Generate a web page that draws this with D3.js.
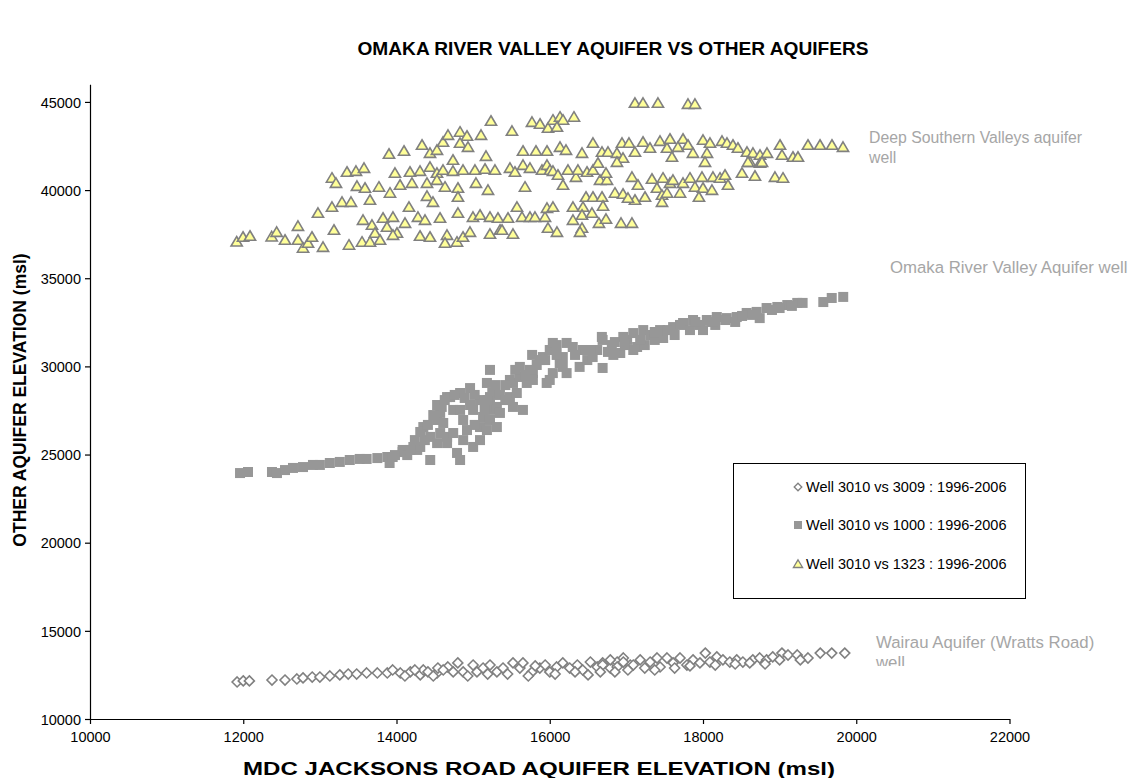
<!DOCTYPE html>
<html><head><meta charset="utf-8">
<script src="https://cdn.jsdelivr.net/npm/d3@7"></script>
<style>
html,body{margin:0;padding:0;background:#fff;}
svg{display:block;font-family:Arial,"Liberation Sans",sans-serif;}
</style></head>
<body>
<svg id="chart" width="1136" height="778"></svg>
<script>
const chartTitle = "OMAKA RIVER VALLEY AQUIFER VS OTHER AQUIFERS";
const xTitle = "MDC JACKSONS ROAD AQUIFER ELEVATION (msl)";
const yTitle = "OTHER AQUIFER ELEVATION (msl)";
const xTicks = [10000,12000,14000,16000,18000,20000,22000];
const yTicks = [10000,15000,20000,25000,30000,35000,40000,45000];
const seriesNames = ["Well 3010 vs 3009 : 1996-2006","Well 3010 vs 1000 : 1996-2006","Well 3010 vs 1323 : 1996-2006"];
const annoDeep = ["Deep Southern Valleys aquifer","well"];
const annoOmaka = ["Omaka River Valley Aquifer well"];
const annoWairau = ["Wairau Aquifer (Wratts Road)","well"];

// Well 3010 vs 3009 (diamonds)
const well3009 = [
[11920,12100],[12000,12160],[12080,12160],[12375,12210],[12545,12210],[12700,12270],[12780,12330],[12900,12380],[13000,12380],
[13130,12440],[13260,12500],[13370,12550],[13480,12550],[13610,12610],[13750,12610],[13880,12610],[13950,12780],[14050,12610],
[14180,12670],[14310,12500],[14350,12780],[14410,12670],[14530,12610],[14540,12890],[14670,12950],[14740,12670],[14800,13180],
[14870,12670],[15000,13060],[15050,12670],[15130,12890],[15220,13060],[15310,12670],[15390,12890],[15520,13180],[15610,12890],
[15650,13180],[15770,12670],[15870,12890],[15940,13060],[16000,12670],[16090,12950],[16170,13180],[16260,12890],[16360,13060],
[16430,12780],[16530,13230],[16620,12950],[16690,13180],[16790,12890],[16880,13230],[16960,13460],[17050,13060],
[16690,13060],[16790,13350],[16880,12950],[16960,13230],[17090,13060],[17180,13350],[17310,13230],[17400,13460],[17440,12950],
[17530,13460],[17610,13180],[17700,13460],[17790,13060],[17870,13350],[17960,13180],[18030,13740],[18090,13230],[18180,13520],
[18260,13350],[18350,13230],[18440,13350],[18520,13230],[18650,13350],[18740,13460],[18830,13350],[18910,13520],[19030,13740],
[19110,13630],[19230,13630],[19370,13460],[19530,13740],[19680,13740],[19850,13740],
[14110,12440],[14240,12780],[14480,12440],[14610,12780],[14930,12440],[15190,12550],[15450,12550],[15720,12440],[15810,13010],
[16070,12550],[16330,12670],[16500,12500],[16660,12670],[16850,12670],[17020,12780],[17240,12890],[17370,12780],[17630,12890],
[17830,13010],[18160,13060],[18420,13120],[18610,13180],[18810,13120],[19000,13350],[19270,13350]
];

// Well 3010 vs 1000 (squares)
const well1000 = [
[11958,23950],[12062,24010],[12375,24010],[12440,23950],[12545,24120],[12649,24240],[12780,24290],[12910,24410],[13000,24410],
[13130,24520],[13260,24580],[13390,24690],[13520,24750],[13610,24750],[13750,24800],[13880,24860],[13910,24520],[13950,24860],
[14080,25140],[14080,25260],[14140,24970],[14220,25430],[14270,25260],[14310,25430],[14350,26560],[14370,25820],[14440,24690],
[14440,26000],[14530,25650],[14530,26960],[14570,26220],[14570,27360],[14590,27700],[14610,26790],[14660,28260],[14660,26000],
[14660,25650],[14700,28260],[14740,27530],[14740,26220],[14790,25090],[14830,28490],[14830,24690],[14870,26960],[14870,25820],
[14960,28770],[15000,27530],[15000,25430],[15090,28090],[15090,26560],[15090,25820],[15130,27130],[15180,26390],[15180,29060],
[15220,29800],[15220,26960],[15220,28260],[15250,28490],[15260,27530],[15310,26560],[15310,27700],[15350,27360],[15480,28260],
[15480,29230],[15520,29060],[15520,27700],[15570,28490],[15610,29400],[15610,29970],[15650,27530],[15700,29060],[15740,29800],
[15770,30650],[15780,29620],[15780,29230],[15870,30360],[15910,30530],[15960,29060],[16000,30930],[16000,29230],[16040,31330],
[16040,29620],[16090,31210],[16130,30190],[16170,29970],[16170,30530],[16220,31330],[16220,29620],[16300,31100],[16390,29970],
[16430,30930],[16490,30360],[16560,30530],[16620,30930],[16680,31670],[16690,31500],[16690,29910],[16810,31210],[16920,30760],
[16960,31670],[17010,31500],[17090,31890],[17090,30930],[17140,31100],[17220,32060],[17310,31780],[17440,32060],[17480,31610],
[17610,32230],[17740,32460],[17870,32630],[18000,32060],[18050,32630],[18180,32800],[18310,32740],[18440,32800],[18570,33030],
[18700,33090],[18830,33310],[18970,33370],[19100,33480],[19230,33600],[19570,33650],[19680,33880],[19830,33940],
[16830,30650],[17240,31210],[17370,31500],[17630,31780],[17830,32060],[18160,32350],[18420,32520],[18740,32740],[17960,32350],
[13980,24970],[14180,25260],[14240,25820],[14310,26280],[14410,26680],[14480,27240],[14530,27810],[14630,28090],[14760,28380],
[14890,28210],[14960,27810],[15020,28380],[14830,27530],[14920,26390],[15020,26680],[15150,27530],[15190,28090],[15290,28940],
[15350,28380],[15420,28090],[15420,28940],[15550,29800],[15680,29510],[15830,30080],[15940,30360],[16090,30650],[16330,30650],
[16530,30930],[16760,30820],[16850,31380],[16980,31210],[17180,31500],[17370,31950],[17540,32060],[17700,32350],[17900,32520],
[18120,32520],[18290,32630],[18510,32860],[18640,32920],[18900,33200],[19000,33310],[19160,33430],[19300,33600]
];

// Well 3010 vs 1323 (triangles)
const well1323 = [
[11914,37073],[11997,37340],[12088,37400],[12371,37360],[12436,37620],[12545,37170],[12714,37960],[12714,37170],[12780,36720],
[12845,37000],[12897,37340],[13041,36770],[13184,37740],[13380,36890],[12975,38700],[13158,39040],[13289,39320],[13406,39320],
[13654,39440],[13158,40690],[13210,40400],[13354,41030],[13471,41080],[13576,41250],[13484,40230],[13589,40120],[13771,40180],
[13915,39840],[13902,42050],[14098,42220],[14333,42560],[14437,42100],[14528,42270],[14607,42730],[14672,43120],[14829,43300],
[14920,43070],[14829,42670],[14933,42440],[15103,43120],[15233,43920],[15168,41930],[14737,41710],[13980,40970],[14176,41030],
[14307,41080],[14437,41310],[14528,40970],[14607,41140],[14737,41080],[14868,41140],[15024,41140],[15155,41200],[15285,41140],
[14046,40290],[14202,40400],[14398,40400],[14528,40570],[14633,40180],[14802,40120],[15037,40400],[15194,40000],[14398,39660],
[14476,39320],[14802,39610],[14163,39040],[13563,38300],[13680,38020],[13719,37570],[13824,38420],[13876,37910],[13954,38470],
[14006,37570],[14111,38130],[14280,38470],[14372,38300],[13550,37060],[13654,37060],[13785,37170],[13954,37450],[14307,37400],
[14437,37340],[14568,38420],[14659,37450],[14633,37000],[14789,37060],[14868,37340],[14959,37620],[14998,38470],[15090,38590],
[15220,38470],[15324,38420],[15220,37510],[15351,37740],[14802,38700],
[17112,44940],[17217,44940],[17412,44940],[17804,44880],[17895,44880],[15768,43860],[15873,43750],[15977,43520],[16042,43980],
[16134,44150],[16173,43980],[16316,44150],[15507,43350],[16094,43580],[15651,42220],[15820,42220],[15964,42220],[16134,42440],
[16212,42270],[16421,42100],[16564,42670],[16682,42160],[16760,42160],[16877,42100],[16943,42670],[17034,42670],[16956,41820],
[16877,41590],[17112,42160],[17217,42730],[17308,42390],[17439,42780],[17530,42390],[17595,41880],[17569,42900],[17739,42900],
[17673,42440],[17804,42560],[17869,42100],[18000,42840],[18091,42670],[18052,42100],[18026,41590],[18248,42780],[18313,42670],
[18391,42560],[18456,42390],[18574,42160],[18652,42100],[18744,41990],[18835,42100],[18613,41590],[18744,41540],[15481,41250],
[15546,41030],[15651,41420],[15742,41250],[15899,41140],[15964,41420],[16003,41140],[16042,41080],[16107,40860],[16173,40290],
[16238,41140],[16342,40740],[16368,41140],[16486,41030],[16564,41140],[16629,41540],[16656,40570],[16747,40570],[16734,40970],
[15677,40180],[16851,39840],[16956,39780],[17073,40740],[17151,40290],[17112,39440],[17021,39550],[17243,39610],[17334,40630],
[17399,40120],[17478,40690],[17569,40400],[17608,40570],[17465,39720],[17530,39840],[17465,39320],[17700,39840],[17739,40400],
[17830,40690],[17895,40180],[17987,40740],[18000,40120],[17947,39610],[18117,40000],[18130,40740],[18222,40690],[18287,40860],
[18326,40290],[18509,40970],[18678,40800],[18939,40740],[15572,39040],[15455,38420],[15638,38470],[15742,38470],[15807,38470],
[15938,38470],[15964,38980],[16042,39040],[15377,37740],[15520,37510],[15977,37850],[16094,37620],[16303,39040],[16434,39040],
[16473,39610],[16564,39610],[16682,39610],[16695,39100],[16421,38590],[16551,38700],[16303,38300],[16421,37850],[16395,37620],
[16642,38130],[16734,38360],[16930,38130],[17073,38130],
[19005,42560],[19031,41990],[19174,41880],[19239,41880],[19370,42560],[19527,42560],[19683,42560],[19827,42440],[19044,40690],
[18770,41590],[18587,41590]
];

const svg = d3.select("#chart");
const plot = {left:90, right:1009.5, top:84.3, bottom:719};
const x = d3.scaleLinear().domain([10000,22000]).range([plot.left, plot.right]);
const y = d3.scaleLinear().domain([10000,46000]).range([plot.bottom, plot.top]);

// Axes
const xAxis = d3.axisBottom(x).tickValues(xTicks).tickSize(5).tickSizeOuter(0).tickFormat(d3.format("d"));
const yAxis = d3.axisLeft(y).tickValues(yTicks).tickSize(5).tickSizeOuter(0).tickFormat(d3.format("d"));

const gx = svg.append("g").attr("transform",`translate(0,${plot.bottom})`).call(xAxis);
const gy = svg.append("g").attr("transform",`translate(${plot.left},0)`).call(yAxis);
[gx,gy].forEach(g=>{
  g.select(".domain").attr("stroke","#000").attr("stroke-width",1.2);
  g.selectAll(".tick line").attr("stroke","#000").attr("stroke-width",1.2);
  g.selectAll(".tick text").attr("fill","#000").style("font-size","14.5px").style("font-family","Arial, 'Liberation Sans', sans-serif");
});
gx.selectAll(".tick text").attr("dy","0").attr("y",23);
gy.selectAll(".tick text").attr("x",-9).attr("dy","0.36em");

// Titles
svg.append("text").attr("x",613).attr("y",55).attr("text-anchor","middle")
  .attr("textLength",511).attr("lengthAdjust","spacingAndGlyphs")
  .style("font-size","18px").style("font-weight","bold").text(chartTitle);
svg.append("text").attr("x",539).attr("y",775).attr("text-anchor","middle")
  .attr("textLength",592).attr("lengthAdjust","spacingAndGlyphs")
  .style("font-size","19px").style("font-weight","bold").text(xTitle);
svg.append("text").attr("transform","translate(26,400) rotate(-90)").attr("text-anchor","middle")
  .style("font-size","17.5px").style("font-weight","bold").text(yTitle);

// Marker shapes
const diamondPath = "M0,-5L5,0L0,5L-5,0Z";
const trianglePath = "M0,-5.2L5.6,4.3L-5.6,4.3Z";

const gPts = svg.append("g");
gPts.selectAll("rect.sq").data(well1000).join("rect").attr("class","sq")
  .attr("x",d=>x(d[0])-5).attr("y",d=>y(d[1])-5).attr("width",10).attr("height",10)
  .attr("fill","#979797");
gPts.selectAll("path.dm").data(well3009).join("path").attr("class","dm")
  .attr("d",diamondPath).attr("transform",d=>`translate(${x(d[0])},${y(d[1])})`)
  .attr("fill","#fff").attr("stroke","#808080").attr("stroke-width",1.6);
gPts.selectAll("path.tr").data(well1323).join("path").attr("class","tr")
  .attr("d",trianglePath).attr("transform",d=>`translate(${x(d[0])},${y(d[1])})`)
  .attr("fill","#FFFF99").attr("stroke","#808080").attr("stroke-width",1.6);

// Annotations
const annoColor = "#a6a6a6";
function anno(lines, ax, ay, fs, clipBottom){
  const g = svg.append("g");
  lines.forEach((t,i)=>{
    g.append("text").attr("x",ax).attr("y",ay+i*20).attr("fill",annoColor)
      .style("font-size",fs+"px").text(t);
  });
  if(clipBottom){
    const id = "clip"+Math.round(ax)+Math.round(ay);
    svg.append("clipPath").attr("id",id).append("rect")
      .attr("x",ax-5).attr("y",ay-22).attr("width",300).attr("height",clipBottom-(ay-22));
    g.attr("clip-path",`url(#${id})`);
  }
}
anno(annoDeep, 869, 143, 15.8);
anno(annoOmaka, 890, 273, 16.8);
anno(annoWairau, 876, 648, 16.8, 666);

// Legend
const lg = svg.append("g");
lg.append("rect").attr("x",733.5).attr("y",463.5).attr("width",292).attr("height",135)
  .attr("fill","#fff").attr("stroke","#000").attr("stroke-width",1);
const legY = [487,525,564];
const lx = 798;
lg.append("path").attr("d","M0,-3.8L3.8,0L0,3.8L-3.8,0Z").attr("transform",`translate(${lx},${legY[0]})`)
  .attr("fill","#fff").attr("stroke","#808080").attr("stroke-width",1.3);
lg.append("rect").attr("x",lx-4).attr("y",legY[1]-4).attr("width",8).attr("height",8).attr("fill","#979797");
lg.append("path").attr("d","M0,-4.2L4.6,3.5L-4.6,3.5Z").attr("transform",`translate(${lx},${legY[2]})`)
  .attr("fill","#FFFF99").attr("stroke","#808080").attr("stroke-width",1.3);
seriesNames.forEach((n,i)=>{
  lg.append("text").attr("x",806).attr("y",legY[i]).attr("dy","0.36em")
    .style("font-size","14.5px").attr("fill","#000").text(n);
});
</script>
</body></html>
